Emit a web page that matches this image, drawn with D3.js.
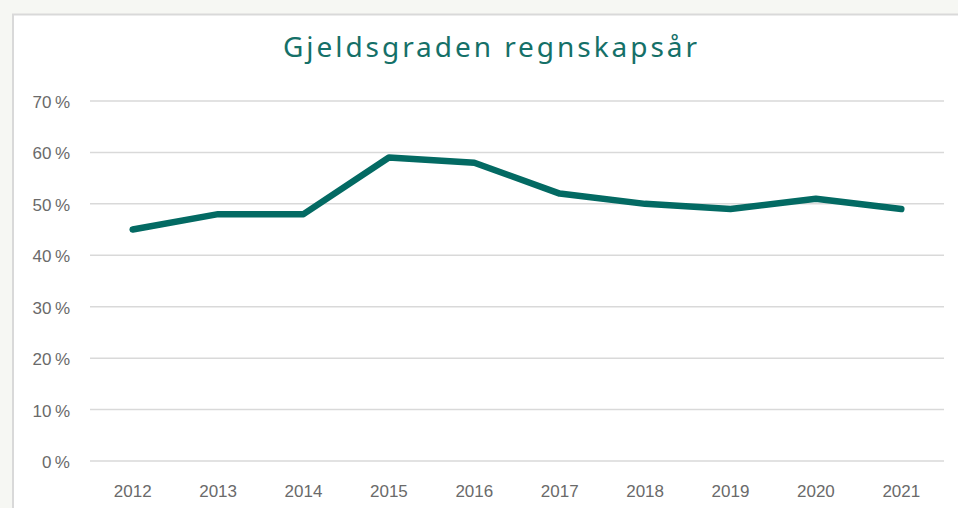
<!DOCTYPE html>
<html lang="no">
<head>
<meta charset="utf-8"/>
<title>Gjeldsgraden regnskapsår</title>
<script src="https://d3js.org/d3.v7.min.js"></script>
<style>
  body { margin: 0; background: #f6f7f3; }
  svg { display: block; }
</style>
</head>
<body>
<script>
// data
var years = ["2012", "2013", "2014", "2015", "2016", "2017", "2018", "2019", "2020", "2021"];
var gjeldsgrad = [45, 48, 48, 59, 58, 52, 50, 49, 51, 49];
var yTicks = [0, 10, 20, 30, 40, 50, 60, 70];

var w = 958, h = 508;

var svg = d3.select("body").append("svg")
    .attr("width", w)
    .attr("height", h);

// chart card
svg.append("rect")
    .attr("x", 13).attr("y", 14.5)
    .attr("width", w).attr("height", h)
    .attr("fill", "#ffffff")
    .attr("stroke", "#d9d9d9")
    .attr("stroke-width", 2);

var xScale = d3.scaleBand()
    .domain(years)
    .range([90, 944]);

var yScale = d3.scaleLinear()
    .domain([0, 70])
    .range([461, 101]);

// gridlines
svg.append("g")
    .selectAll("line")
    .data(yTicks)
    .enter()
    .append("line")
    .attr("x1", 90).attr("x2", 944)
    .attr("y1", function (d) { return yScale(d); })
    .attr("y2", function (d) { return yScale(d); })
    .attr("stroke", "#d9d9d9")
    .attr("stroke-width", 1.5);

// y labels
svg.append("g")
    .selectAll("text")
    .data(yTicks)
    .enter()
    .append("text")
    .attr("x", 70)
    .attr("y", function (d) { return yScale(d) + 7; })
    .attr("text-anchor", "end")
    .attr("font-family", "Liberation Sans, sans-serif")
    .attr("font-size", 17)
    .attr("fill", "#6a6a6a")
    .text(function (d) { return d + "\u2009%"; });

// x labels
svg.append("g")
    .selectAll("text")
    .data(years)
    .enter()
    .append("text")
    .attr("x", function (d) { return xScale(d) + xScale.bandwidth() / 2; })
    .attr("y", 497)
    .attr("text-anchor", "middle")
    .attr("font-family", "Liberation Sans, sans-serif")
    .attr("font-size", 17)
    .attr("fill", "#6a6a6a")
    .text(function (d) { return d; });

// the line
var line = d3.line()
    .x(function (d, i) { return xScale(years[i]) + xScale.bandwidth() / 2; })
    .y(function (d) { return yScale(d); });

svg.append("path")
    .datum(gjeldsgrad)
    .attr("d", line)
    .attr("fill", "none")
    .attr("stroke", "#036a63")
    .attr("stroke-width", 6.5)
    .attr("stroke-linejoin", "round")
    .attr("stroke-linecap", "round");

// title
svg.append("text")
    .attr("x", 283)
    .attr("y", 57)
    .attr("textLength", 414)
    .attr("lengthAdjust", "spacing")
    .attr("font-family", "Noto Sans, sans-serif")
    .attr("font-size", 28)
    .attr("fill", "#157068")
    .text("Gjeldsgraden regnskapsår");
</script>
</body>
</html>
